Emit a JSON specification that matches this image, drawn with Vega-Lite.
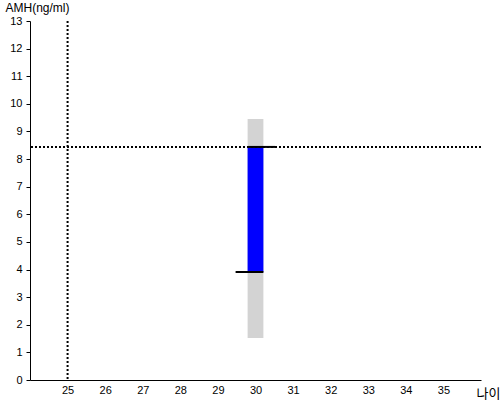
{
  "$schema": "https://vega.github.io/schema/vega-lite/v6.json",
  "width": 451,
  "height": 359,
  "autosize": "none",
  "padding": {"left": 30, "top": 21, "right": 19, "bottom": 20},
  "background": "white",
  "config": {"view": {"stroke": null}, "font": "Liberation Sans"},
  "datasets": {
    "bars": [{"age": 30, "x1": 29.79, "x2": 30.21, "lo": 1.52, "hi": 9.45, "b_lo": 3.91, "b_hi": 8.44}],
    "ticks": [
      {"x1": 29.79, "x2": 30.53, "y": 8.44},
      {"x1": 29.47, "x2": 30.21, "y": 3.91}
    ],
    "hline": [{"y": 8.44}],
    "vline": [{"x": 25}]
  },
  "layer": [
    {
      "data": {"name": "bars"},
      "mark": {"type": "rect", "color": "#d3d3d3"},
      "encoding": {
        "x": {"field": "x1", "type": "quantitative", "scale": {"domain": [24, 36], "nice": false, "zero": false},
          "axis": {"values": [25,26,27,28,29,30,31,32,33,34,35], "labelOverlap": false, "grid": false, "ticks": false, "domainColor": "black", "domainWidth": 1, "labelColor": "black", "labelFontSize": 11, "labelPadding": 4, "title": "나이", "titleFont": "Noto Sans CJK KR", "titleFontWeight": "normal", "titleFontSize": 13, "titleAlign": "left", "titleBaseline": "middle", "titleX": 446, "titleY": 13, "titleColor": "black"}},
        "x2": {"field": "x2"},
        "y": {"field": "lo", "type": "quantitative", "scale": {"domain": [0, 13], "nice": false},
          "axis": {"values": [0,1,2,3,4,5,6,7,8,9,10,11,12,13], "tickCount": 14, "labelOverlap": false, "grid": false, "tickColor": "black", "tickSize": 4, "domainColor": "black", "labelColor": "black", "labelFontSize": 11, "labelPadding": 4, "title": "AMH(ng/ml)", "titleAngle": 0, "titleAlign": "left", "titleBaseline": "middle", "titleX": -25, "titleY": -14, "titleFontWeight": "normal", "titleFontSize": 12, "titleColor": "black"}},
        "y2": {"field": "hi"}
      }
    },
    {
      "data": {"name": "bars"},
      "mark": {"type": "rect", "color": "#0000ff"},
      "encoding": {
        "x": {"field": "x1", "type": "quantitative"},
        "x2": {"field": "x2"},
        "y": {"field": "b_lo", "type": "quantitative", "axis": {"values": [0,1,2,3,4,5,6,7,8,9,10,11,12,13], "tickCount": 14}},
        "y2": {"field": "b_hi"}
      }
    },
    {
      "data": {"name": "hline"},
      "mark": {"type": "rule", "color": "black", "strokeWidth": 2, "strokeDash": [2, 2]},
      "encoding": {"y": {"field": "y", "type": "quantitative", "axis": {"values": [0,1,2,3,4,5,6,7,8,9,10,11,12,13], "tickCount": 14}}}
    },
    {
      "data": {"name": "vline"},
      "mark": {"type": "rule", "color": "black", "strokeWidth": 2, "strokeDash": [2, 2]},
      "encoding": {"x": {"field": "x", "type": "quantitative"}}
    },
    {
      "data": {"name": "ticks"},
      "mark": {"type": "rule", "color": "black", "strokeWidth": 2},
      "encoding": {
        "x": {"field": "x1", "type": "quantitative"},
        "x2": {"field": "x2"},
        "y": {"field": "y", "type": "quantitative", "axis": {"values": [0,1,2,3,4,5,6,7,8,9,10,11,12,13], "tickCount": 14}}
      }
    }
  ]
}
